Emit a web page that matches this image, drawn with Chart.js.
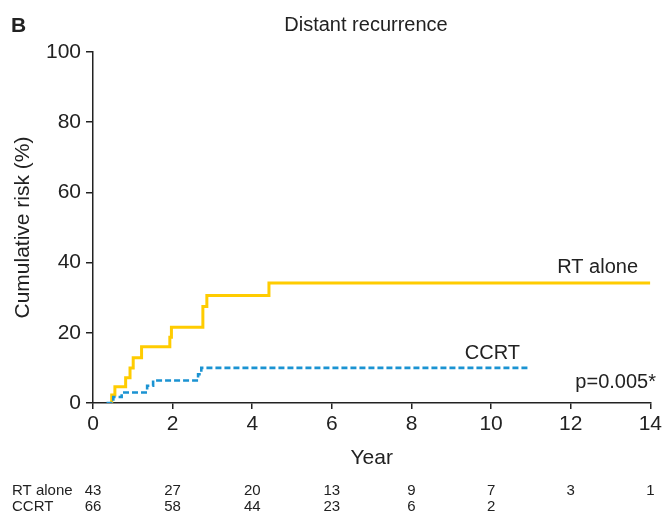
<!DOCTYPE html>
<html>
<head>
<meta charset="utf-8">
<script src="https://cdn.jsdelivr.net/npm/chart.js@4"></script>
<style>
  html, body { margin: 0; padding: 0; background: #fff; }
  #wrap { width: 665px; height: 514px; position: relative; }
</style>
</head>
<body>
<div id="wrap"><canvas id="km"></canvas></div>
<script>
// step points (year, cumulative risk %)
const rtYears = [0.43, 0.47, 0.55, 0.82, 0.93, 1.01, 1.22, 1.93, 1.97, 2.76, 2.86, 4.42, 14];
const rtRisk = [0, 2.3, 4.6, 7.2, 10.0, 12.9, 16.0, 18.7, 21.6, 27.5, 30.6, 34.2, 34.2];
const ccrtYears = [0.34, 0.51, 0.72, 1.36, 1.51, 2.64, 2.72, 10.97];
const ccrtRisk = [0, 1.7, 3.0, 4.9, 6.4, 8.2, 10.0, 10.0];

const tableYears = [0, 2, 4, 6, 8, 10, 12, 14];
const rtAtRisk = [43, 27, 20, 13, 9, 7, 3, 1];
const ccrtAtRisk = [66, 58, 44, 23, 6, 2];

const FONT = "'Liberation Sans', Arial, sans-serif";

const toPts = (xs, ys) => xs.map((x, i) => ({ x: x, y: ys[i] }));

// all the loose text: panel letter, title, axis titles, curve labels, numbers at risk
const textPlugin = {
  id: "texts",
  afterDraw(chart) {
    const { ctx } = chart;
    const xs = chart.scales.x;
    const ys = chart.scales.y;
    ctx.save();
    ctx.fillStyle = "#222";
    ctx.textBaseline = "middle";

    ctx.font = "bold 21px " + FONT;
    ctx.textAlign = "left";
    ctx.fillText("B", 11, 26);

    ctx.font = "20px " + FONT;
    ctx.textAlign = "center";
    ctx.fillText("Distant recurrence", 366, 25);

    ctx.font = "21px " + FONT;
    ctx.fillText("Year", (xs.left + xs.right) / 2, 458);

    ctx.save();
    ctx.translate(23, (ys.top + ys.bottom) / 2);
    ctx.rotate(-Math.PI / 2);
    ctx.fillText("Cumulative risk (%)", 0, 0);
    ctx.restore();

    ctx.font = "20px " + FONT;
    ctx.textAlign = "right";
    ctx.fillText("RT alone", 638, 267);
    ctx.fillText("CCRT", 520, 353);
    ctx.fillText("p=0.005*", 656, 382);

    // numbers at risk
    ctx.font = "15px " + FONT;
    ctx.textAlign = "left";
    ctx.fillText("RT alone", 12, 491);
    ctx.fillText("CCRT", 12, 507);
    ctx.textAlign = "center";
    rtAtRisk.forEach((n, i) => ctx.fillText(String(n), xs.getPixelForValue(tableYears[i]), 491));
    ccrtAtRisk.forEach((n, i) => ctx.fillText(String(n), xs.getPixelForValue(tableYears[i]), 507));
    ctx.restore();
  }
};

new Chart(document.getElementById("km"), {
  type: "line",
  data: {
    datasets: [
      {
        label: "CCRT",
        data: toPts(ccrtYears, ccrtRisk),
        borderColor: "#1b93d2",
        borderWidth: 2.6,
        borderDash: [6, 3],
        stepped: true,
        pointRadius: 0,
        fill: false
      },
      {
        label: "RT alone",
        data: toPts(rtYears, rtRisk),
        borderColor: "#ffcc00",
        borderWidth: 3,
        stepped: true,
        pointRadius: 0,
        fill: false
      }
    ]
  },
  options: {
    responsive: true,
    maintainAspectRatio: false,
    animation: false,
    layout: { padding: { left: 0, top: 52, right: 13, bottom: 71 } },
    plugins: { legend: { display: false }, tooltip: { enabled: false }, title: { display: false } },
    scales: {
      x: {
        type: "linear",
        min: 0,
        max: 14,
        afterFit: (s) => { s.height = 40; },
        ticks: { stepSize: 2, color: "#222", padding: 3, font: { family: FONT, size: 21 } },
        grid: { drawOnChartArea: false, drawTicks: true, tickLength: 6, color: "#222", lineWidth: 1.5 },
        border: { display: true, color: "#222", width: 1.5 }
      },
      y: {
        min: 0,
        max: 100,
        afterFit: (s) => { s.width = 93; },
        ticks: { stepSize: 20, color: "#222", padding: 5, font: { family: FONT, size: 21 } },
        grid: { drawOnChartArea: false, drawTicks: true, tickLength: 7, color: "#222", lineWidth: 1.5 },
        border: { display: true, color: "#222", width: 1.5 }
      }
    }
  },
  plugins: [textPlugin]
});
</script>
</body>
</html>
